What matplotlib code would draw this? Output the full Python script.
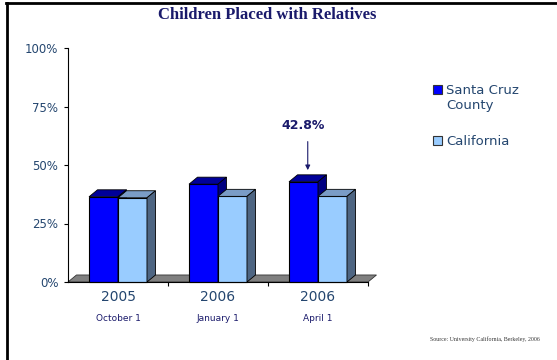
import numpy as np
import matplotlib.pyplot as plt
from matplotlib.patches import Polygon
from matplotlib.lines import Line2D

# -- data
years = ['2005', '2006', '2006']
dates = ['October 1', 'January 1', 'April 1']
santa_cruz = [36.4, 41.8, 42.8]
california = [36.0, 36.6, 36.6]
series = ['Santa Cruz\nCounty', 'California']
yticks = [0, 25, 50, 75, 100]

# -- styles
front = ['#0000FF', '#99CCFF']
top = ['#000099', '#7A9CC6']
side = ['#000080', '#4E6582']
navy = '#1A1A6B'
slate = '#24466F'
w = 0.29          # bar width (category = 1)
dx, dy = 0.085, 3.0   # fake 3D depth in data units

fig = plt.figure(figsize=(5.57, 3.6), dpi=100)
ax = fig.add_axes([68/557, 78/360, 300/557, 234/360])
ax.set_xlim(0, 3)
ax.set_ylim(0, 100)

# floor
floor = Polygon([(0, 0), (3, 0), (3+dx, dy), (dx, dy)], closed=True,
                facecolor='#808080', edgecolor='#333333', lw=0.6,
                clip_on=False, zorder=1)
ax.add_patch(floor)

x = np.arange(len(years))
for k, vals in enumerate([santa_cruz, california]):
    x0 = x + 0.21 + k*w
    ax.bar(x0, vals, width=w, align='edge', color=front[k],
           edgecolor='black', lw=0.8, zorder=3+k, clip_on=False)
    for xi, h in zip(x0, vals):
        x1 = xi + w
        ax.add_patch(Polygon([(xi, h), (xi+dx, h+dy), (x1+dx, h+dy), (x1, h)],
                             facecolor=top[k], edgecolor='black', lw=0.6,
                             zorder=3+k, clip_on=False))
        ax.add_patch(Polygon([(x1, 0), (x1, h), (x1+dx, h+dy), (x1+dx, dy)],
                             facecolor=side[k], edgecolor='black', lw=0.6,
                             zorder=3+k, clip_on=False))

# axes styling
for s in ['top', 'right']:
    ax.spines[s].set_visible(False)
ax.spines['left'].set_linewidth(0.8)
ax.spines['bottom'].set_linewidth(0.8)
ax.spines['bottom'].set_zorder(6)
ax.set_yticks(yticks)
ax.set_yticklabels([f'{t}%' for t in yticks], fontsize=8.5, color=slate)
ax.tick_params(axis='y', length=3, width=0.8, pad=4)
ax.set_xticks([1, 2, 3])
ax.set_xticklabels([])
ax.tick_params(axis='x', length=3, width=0.8)

for i in range(len(years)):
    ax.text(i + 0.5, -6.5, years[i], ha='center', va='center', fontsize=10,
            color=slate)
    ax.text(i + 0.5, -15.5, dates[i], ha='center', va='center', fontsize=6.5,
            color=navy)

# callout on the latest Santa Cruz value
xc = 2 + 0.21 + w/2
ax.annotate('', xy=(xc + dx/2, santa_cruz[2] + dy + 2), xytext=(xc + dx/2, 60),
            arrowprops=dict(arrowstyle='-|>', color=navy, lw=0.8,
                            mutation_scale=7, shrinkA=0, shrinkB=0))
ax.text(xc, 67, f'{santa_cruz[2]:.1f}%', ha='center', va='center',
        fontsize=9, fontweight='bold', color=navy)

# legend
for k, lab in enumerate(series):
    ym = [89, 140][k]
    fig.patches.append(plt.Rectangle((433/557, 1 - (ym+4.5)/360), 9/557, 9/360,
                                     transform=fig.transFigure,
                                     facecolor=front[k], edgecolor='#333333',
                                     lw=0.8))
    fig.text(446/557, 1 - (ym-5)/360, lab, ha='left', va='top', fontsize=9.5,
             color=slate, linespacing=1.15)

# title, source, frame
fig.text(267/557, 1 - 15/360, 'Children Placed with Relatives', ha='center',
         va='center', fontsize=12, fontweight='bold', family='Liberation Serif',
         color=navy)
fig.text(540/557, 1 - 339/360, 'Source: University California, Berkeley, 2006',
         ha='right', va='center', fontsize=4.2, family='Liberation Serif',
         color='#333333')
fig.add_artist(Line2D([7/557, 7/557], [0, 1 - 3/360], color='black', lw=2))
fig.add_artist(Line2D([6/557, 1], [1 - 3/360, 1 - 3/360], color='black', lw=2))

fig.savefig('out.png', dpi=100)
